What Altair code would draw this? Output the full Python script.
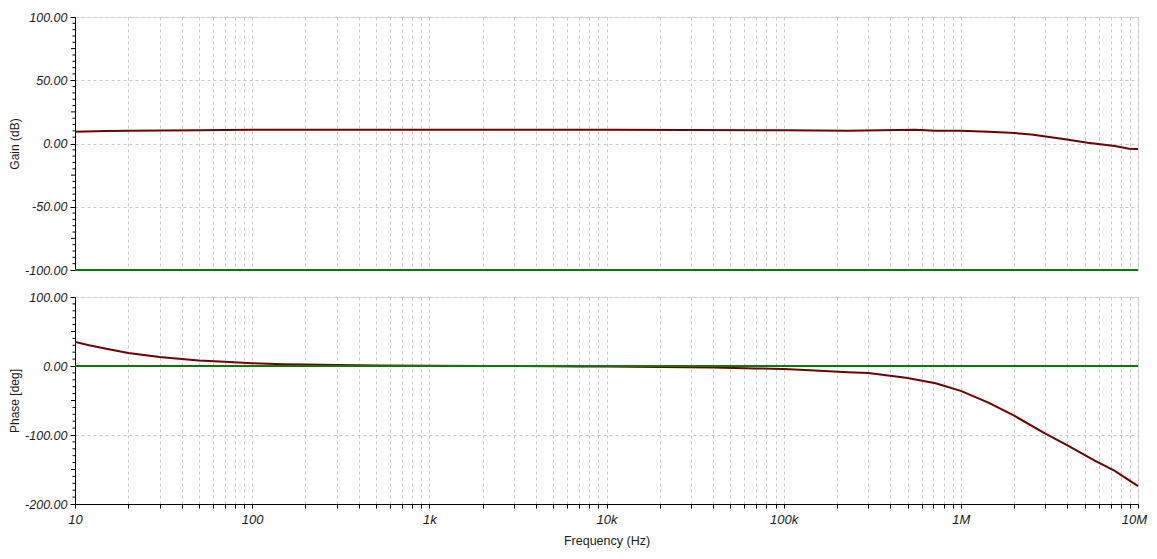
import altair as alt
import pandas as pd

# ---- data ----
gain_freq = [10, 15, 20, 50, 100, 1e3, 1e4, 1e5, 2.3e5, 5.5e5, 7.2e5, 1e6, 1.43e6, 1.9e6, 2.5e6, 3.8e6, 5.2e6, 7.4e6, 8.9e6, 1e7]
gain_db = [9.3, 9.9, 10.0, 10.5, 10.8, 10.9, 10.9, 10.4, 10.1, 10.9, 10.1, 10.0, 9.3, 8.5, 7.2, 3.5, 0.6, -2.0, -4.1, -4.3]

phase_freq = [10, 12, 15, 20, 30, 40, 50, 70, 100, 150, 200, 300, 500, 1e3, 2e3, 5e3, 7e3, 1e4, 2e4, 4e4, 7e4, 1e5,
              1.5e5, 2.3e5, 3e5, 4.9e5, 7.2e5, 1e6, 1.43e6, 2e6, 3e6, 4e6, 5.7e6, 7.4e6, 1e7]
phase_deg = [35, 30, 25, 19, 13, 10, 8, 6, 4, 2.7, 2, 1.3, 0.8, 0.4, 0.1, -0.3, -0.6, -0.8, -1.5, -2.3, -3.5, -4.5,
             -6.5, -9, -10, -17, -25, -36, -53, -72, -98, -115, -137, -152, -174]

ref_freq = [10, 1e7]
ref_gain = [-100, -100]
ref_phase = [0, 0]

gain_ticks = [-100, -50, 0, 50, 100]
phase_ticks = [-200, -100, 0, 100]
decade_labels = {10: "10", 100: "100", 1000: "1k", 10000: "10k", 100000: "100k", 1000000: "1M", 10000000: "10M"}

# minor-grid positions 1..9 per decade
grid_vals = []
for d in [10, 100, 1000, 10000, 100000, 1000000]:
    for m in range(1, 10):
        grid_vals.append(d * m)
grid_vals.append(10000000)

gain_minor = [v for v in range(-100, 101, 5) if v % 25 != 0]
gain_mid = [-75, -25, 25, 75]
phase_minor = [v for v in range(-200, 101, 10) if v % 50 != 0]
phase_mid = [-150, -50, 50]

RED = "#6e0000"
GREEN = "#0a780a"
GRID = "#c8c8c8"
FONT = "Liberation Sans"

label_expr = " : ".join(f"datum.value == {k} ? '{v}'" for k, v in decade_labels.items()) + " : ''"
ylabel_expr = "replace(format(datum.value, '.2f'), '\u2212', '-')"

xscale = alt.Scale(type="log", domain=[10, 1e7], nice=False)

W = 1063
H_TOP = 253
H_BOT = 207
GAP = 27


def panel(values_freq, values_y, ref_y, ymin, ymax, yticks, minor, mid, ytitle, height, bottom):
    df = pd.DataFrame({"f": values_freq, "v": values_y})
    dref = pd.DataFrame({"f": ref_freq, "v": ref_y})
    yscale = alt.Scale(domain=[ymin, ymax], nice=False, zero=False)
    if bottom:
        xaxis = alt.Axis(values=grid_vals, labelExpr=label_expr, labelOverlap=False, labelFlush=False,
                         labelOffset={"condition": {"test": "datum.value == 10000000", "value": -4}, "value": 0},
                         grid=True, gridDash=[3, 3], gridColor=GRID, domainColor="black", tickColor="black",
                         tickSize=4, labelPadding=5, labelFontStyle="italic", labelFontSize=13,
                         labelFont=FONT, labelColor="#1a1a1a", title="Frequency (Hz)", titleFont=FONT,
                         titleFontSize=12.5, titleFontWeight="normal", titleColor="#1a1a1a", titlePadding=8)
    else:
        xaxis = alt.Axis(values=grid_vals, grid=True, gridDash=[3, 3], gridColor=GRID, labels=False,
                         ticks=False, domain=False, title=None)
    yaxis = alt.Axis(values=yticks, labelExpr=ylabel_expr, grid=True, gridDash=[3, 3], gridColor=GRID,
                     domainColor="black", tickColor="black", tickSize=5, labelPadding=3,
                     labelFontStyle="italic", labelFontSize=12.5, labelFont=FONT, labelColor="#1a1a1a",
                     title=ytitle, titleFont=FONT, titleFontSize=12, titleFontWeight="normal",
                     titleColor="#1a1a1a", titlePadding=3)
    base_line = alt.Chart(df).mark_line(color=RED, strokeWidth=2, interpolate="linear").encode(
        x=alt.X("f:Q", scale=xscale, axis=xaxis),
        y=alt.Y("v:Q", scale=yscale, axis=yaxis),
    )
    ref_line = alt.Chart(dref).mark_line(color=GREEN, strokeWidth=2).encode(
        x=alt.X("f:Q", scale=xscale),
        y=alt.Y("v:Q", scale=yscale),
    )
    minor_t = alt.Chart(pd.DataFrame({"v": minor})).mark_rule(color="black", strokeWidth=1).encode(
        y=alt.Y("v:Q", scale=yscale), x=alt.value(-2.5), x2=alt.value(0))
    mid_t = alt.Chart(pd.DataFrame({"v": mid})).mark_rule(color="black", strokeWidth=1).encode(
        y=alt.Y("v:Q", scale=yscale), x=alt.value(-4), x2=alt.value(0))
    return alt.layer(base_line, ref_line, minor_t, mid_t).properties(width=W, height=height)


top = panel(gain_freq, gain_db, ref_gain, -100, 100, gain_ticks, gain_minor, gain_mid, "Gain (dB)", H_TOP, False)
bot = panel(phase_freq, phase_deg, ref_phase, -200, 100, phase_ticks, phase_minor, phase_mid, "Phase [deg]", H_BOT, True)

chart = alt.vconcat(top, bot, spacing=GAP, bounds="flush").properties(
    autosize=alt.AutoSizeParams(type="none"),
    padding={"left": 67, "top": 9, "right": 11, "bottom": 45 + H_TOP + H_BOT + GAP},
).configure_view(stroke="#b4b4b4", strokeWidth=1).configure(background="white")

chart.save("out.html", embed_options={"renderer": "svg", "actions": False})
